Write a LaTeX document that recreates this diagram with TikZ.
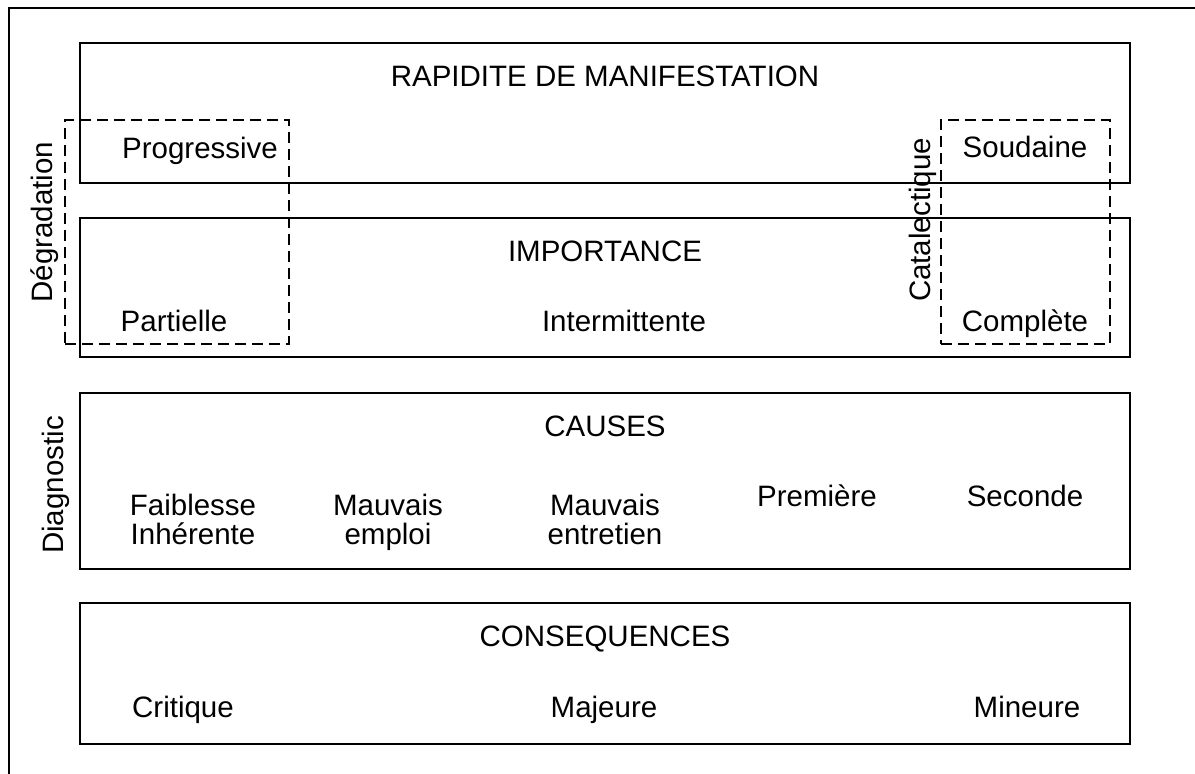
\documentclass[tikz,border=0pt]{standalone}
\usepackage{fontspec}
\setmainfont{Liberation Sans}
\tikzset{
    level-box/.style = {draw, line width=0.8pt, rectangle, inner sep=0pt, minimum width=525pt},
    group-box/.style = {draw, line width=0.8pt, rectangle, inner sep=0pt, dash pattern=on 5.5pt off 3pt},
    diag-text/.style = {inner sep=0pt, font=\fontsize{14.75pt}{14.5pt}\selectfont},
    box-title/.style = {diag-text, anchor=base},
    item-label/.style = {diag-text, anchor=base},
    two-line-label/.style = {diag-text, anchor=north, align=center},
    side-label/.style = {diag-text, rotate=90, anchor=base},
}

\begin{document}
\begin{tikzpicture}[x=0.5pt, y=-0.5pt]
\useasboundingbox (0,0) rectangle (1195,774);
\draw[line width=0.8pt] (9,774) -- (9,8) -- (1195,8);

\node[level-box, minimum height=70pt] (rapidite-box) at (605,113) {};
\node[level-box, minimum height=69.5pt] (importance-box) at (605,287.5) {};
\node[level-box, minimum height=88pt] (causes-box) at (605,481) {};
\node[level-box, minimum height=70.5pt] (consequences-box) at (605,673.5) {};

\node[group-box, minimum width=112pt, minimum height=112pt] (degradation-box) at (177,232) {};
\node[group-box, minimum width=84.5pt, minimum height=112pt] (catalectique-box) at (1025.5,232) {};

\node[box-title] (rapidite) at (605,87) {RAPIDITE DE MANIFESTATION};
\node[item-label] (progressive) at (200,159) {Progressive};
\node[item-label] (soudaine) at (1025,158) {Soudaine};

\node[box-title] (importance) at (605,262) {IMPORTANCE};
\node[item-label] (partielle) at (174,332) {Partielle};
\node[item-label] (intermittente) at (624,332) {Intermittente};
\node[item-label] (complete) at (1025,332) {Complète};

\node[box-title] (causes) at (605,437) {CAUSES};
\node[two-line-label] (faiblesse) at (193,494) {Faiblesse\\Inhérente};
\node[two-line-label] (emploi) at (388,494) {Mauvais\\emploi};
\node[two-line-label] (entretien) at (605,494) {Mauvais\\entretien};
\node[item-label] (premiere) at (817,507) {Première};
\node[item-label] (seconde) at (1025,507) {Seconde};

\node[box-title] (consequences) at (605,647) {CONSEQUENCES};
\node[item-label] (critique) at (183,718) {Critique};
\node[item-label] (majeure) at (604,718) {Majeure};
\node[item-label] (mineure) at (1027,718) {Mineure};

\node[side-label] (degradation) at (53,222) {Dégradation};
\node[side-label] (catalectique) at (930,220) {Catalectique};
\node[side-label] (diagnostic) at (63,485) {Diagnostic};
\end{tikzpicture}
\end{document}
